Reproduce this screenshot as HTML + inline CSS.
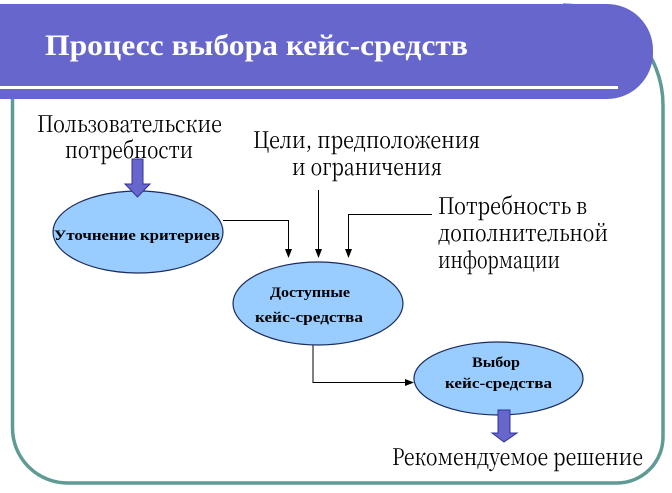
<!DOCTYPE html>
<html>
<head>
<meta charset="utf-8">
<style>
  html, body { margin: 0; padding: 0; background: #ffffff; }
  svg { display: block; }
  text { font-family: "Liberation Serif", "Times New Roman", "Noto Serif CJK SC", serif; }
  text.r { font-family: "Noto Serif CJK SC", "Liberation Serif", serif; }
</style>
</head>
<body>
<svg width="672" height="493" viewBox="0 0 672 493" xmlns="http://www.w3.org/2000/svg">
  <rect x="0" y="0" width="672" height="493" fill="#ffffff"/>

  <!-- teal frame -->
  <path d="M 12.5 92 V 428 A 55 55 0 0 0 67.5 483 H 617 A 46 46 0 0 0 663 437 V 105 A 100 100 0 0 0 563 5"
        fill="none" stroke="#5F9A94" stroke-width="3.5"/>

  <!-- header bar -->
  <rect x="-60" y="4" width="713" height="95" rx="46" ry="46" fill="#6666CC"/>
  <rect x="0" y="86" width="618" height="3" fill="#ffffff"/>
  <text x="45" y="55" font-size="30" font-weight="bold" fill="#ffffff" textLength="423" lengthAdjust="spacingAndGlyphs">Процесс выбора кейс-средств</text>

  <!-- top labels -->
  <text class="r" x="37" y="132" font-size="23" fill="#000" textLength="185" lengthAdjust="spacingAndGlyphs">Пользовательские</text>
  <text class="r" x="65" y="158" font-size="23" fill="#000" textLength="128" lengthAdjust="spacingAndGlyphs">потребности</text>

  <text class="r" x="253" y="148" font-size="23" fill="#000" textLength="227" lengthAdjust="spacingAndGlyphs">Цели, предположения</text>
  <text class="r" x="292" y="175" font-size="23" fill="#000" textLength="150" lengthAdjust="spacingAndGlyphs">и ограничения</text>

  <text class="r" x="438" y="214" font-size="23" fill="#000" textLength="149" lengthAdjust="spacingAndGlyphs">Потребность в</text>
  <text class="r" x="438" y="241" font-size="23" fill="#000" textLength="170" lengthAdjust="spacingAndGlyphs">дополнительной</text>
  <text class="r" x="438" y="268" font-size="23" fill="#000" textLength="122" lengthAdjust="spacingAndGlyphs">информации</text>

  <!-- connectors -->
  <g stroke="#000" stroke-width="1" fill="none">
    <path d="M 223 220.5 H 288.5 V 251"/>
    <path d="M 318.5 190 V 251"/>
    <path d="M 432 214.5 H 348.5 V 251"/>
    <path d="M 313 345 V 382.5 H 407"/>
  </g>
  <g fill="#000">
    <polygon points="285,249 292,249 288.5,258"/>
    <polygon points="315,249 322,249 318.5,258"/>
    <polygon points="345,249 352,249 348.5,258"/>
    <polygon points="405,379 405,386 414,382.5"/>
  </g>

  <!-- ellipses -->
  <ellipse cx="138" cy="232" rx="85" ry="41" fill="#99CCFF" stroke="#1C2C5C" stroke-width="1.2"/>
  <text x="54" y="240" font-size="15" font-weight="bold" fill="#000" textLength="166" lengthAdjust="spacingAndGlyphs">Уточнение критериев</text>

  <ellipse cx="318" cy="303.5" rx="85" ry="41.5" fill="#99CCFF" stroke="#1C2C5C" stroke-width="1.2"/>
  <text x="270" y="297" font-size="15" font-weight="bold" fill="#000" textLength="80" lengthAdjust="spacingAndGlyphs">Доступные</text>
  <text x="255" y="322" font-size="15" font-weight="bold" fill="#000" textLength="108" lengthAdjust="spacingAndGlyphs">кейс-средства</text>

  <ellipse cx="498.5" cy="378.5" rx="84.5" ry="36.5" fill="#99CCFF" stroke="#1C2C5C" stroke-width="1.2"/>
  <text x="472" y="367" font-size="15" font-weight="bold" fill="#000" textLength="48" lengthAdjust="spacingAndGlyphs">Выбор</text>
  <text x="445" y="388" font-size="15" font-weight="bold" fill="#000" textLength="107" lengthAdjust="spacingAndGlyphs">кейс-средства</text>

  <!-- block arrows -->
  <polygon points="132,159 143,159 143,184 150,184 137.5,197 125,184 132,184" fill="#6666CC" stroke="#333399" stroke-width="1"/>
  <polygon points="498,410 510,410 510,433 517,433 504,442 492,433 498,433" fill="#6666CC" stroke="#333399" stroke-width="1"/>

  <!-- bottom label -->
  <text class="r" x="392" y="465" font-size="23" fill="#000" textLength="251" lengthAdjust="spacingAndGlyphs">Рекомендуемое решение</text>
</svg>
</body>
</html>
